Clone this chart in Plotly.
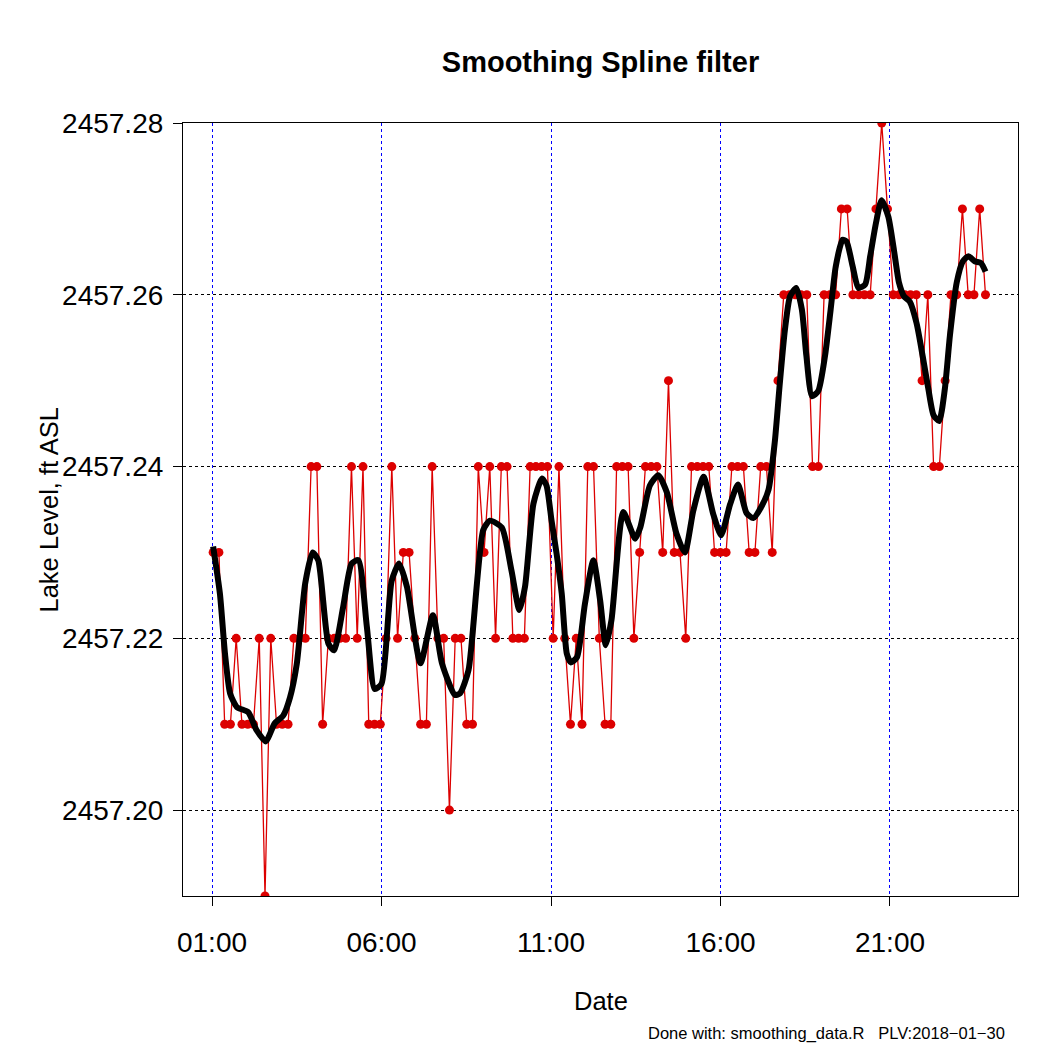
import plotly.graph_objects as go
import pandas as pd

# ---- data ----
day = "2018-01-29 "
first_time = "01:02"
last_time = "23:49"

level = [
    2457.23, 2457.23, 2457.21, 2457.21, 2457.22, 2457.21, 2457.21, 2457.21, 2457.22, 2457.19,
    2457.22, 2457.21, 2457.21, 2457.21, 2457.22, 2457.22, 2457.22, 2457.24, 2457.24, 2457.21,
    2457.22, 2457.22, 2457.22, 2457.22, 2457.24, 2457.22, 2457.24, 2457.21, 2457.21, 2457.21,
    2457.22, 2457.24, 2457.22, 2457.23, 2457.23, 2457.22, 2457.21, 2457.21, 2457.24, 2457.22,
    2457.22, 2457.20, 2457.22, 2457.22, 2457.21, 2457.21, 2457.24, 2457.23, 2457.24, 2457.22,
    2457.24, 2457.24, 2457.22, 2457.22, 2457.22, 2457.24, 2457.24, 2457.24, 2457.24, 2457.22,
    2457.24, 2457.22, 2457.21, 2457.22, 2457.21, 2457.24, 2457.24, 2457.22, 2457.21, 2457.21,
    2457.24, 2457.24, 2457.24, 2457.22, 2457.23, 2457.24, 2457.24, 2457.24, 2457.23, 2457.25,
    2457.23, 2457.23, 2457.22, 2457.24, 2457.24, 2457.24, 2457.24, 2457.23, 2457.23, 2457.23,
    2457.24, 2457.24, 2457.24, 2457.23, 2457.23, 2457.24, 2457.24, 2457.23, 2457.25, 2457.26,
    2457.26, 2457.26, 2457.26, 2457.26, 2457.24, 2457.24, 2457.26, 2457.26, 2457.26, 2457.27,
    2457.27, 2457.26, 2457.26, 2457.26, 2457.26, 2457.27, 2457.28, 2457.27, 2457.26, 2457.26,
    2457.26, 2457.26, 2457.26, 2457.25, 2457.26, 2457.24, 2457.24, 2457.25, 2457.26, 2457.26,
    2457.27, 2457.26, 2457.26, 2457.27, 2457.26,
]

smooth_time = [
    "01:02", "01:14", "01:23", "01:32", "01:44", "02:04", "02:19", "02:35", "02:51", "03:06",
    "03:18", "03:30", "03:45", "03:58", "04:08", "04:26", "04:36", "04:52", "05:07", "05:19",
    "05:34", "05:48", "06:00", "06:18", "06:31", "06:45", "07:09", "07:31", "07:47", "08:10",
    "08:19", "08:34", "09:00", "09:12", "09:33", "09:50", "10:04", "10:14", "10:29", "10:44",
    "10:52", "11:01", "11:10", "11:19", "11:28", "11:35", "11:46", "12:00", "12:15", "12:27",
    "12:37", "12:47", "13:08", "13:29", "13:38", "13:55", "14:10", "14:25", "14:42", "14:57",
    "15:12", "15:30", "15:47", "16:01", "16:17", "16:31", "16:46", "16:58", "17:13", "17:25",
    "17:36", "17:45", "17:54", "18:03", "18:14", "18:24", "18:32", "18:42", "18:53", "19:05",
    "19:15", "19:24", "19:36", "19:43", "19:54", "20:04", "20:16", "20:25", "20:35", "20:45",
    "20:57", "21:07", "21:16", "21:25", "21:35", "21:47", "21:58", "22:08", "22:17", "22:27",
    "22:37", "22:46", "22:58", "23:09", "23:19", "23:30", "23:41", "23:49",
]
smooth_level = [
    2457.2307, 2457.2252, 2457.2182, 2457.2136, 2457.2120, 2457.2114, 2457.2093, 2457.2080, 2457.2101, 2457.2110,
    2457.2131, 2457.2170, 2457.2264, 2457.2300, 2457.2291, 2457.2194, 2457.2186, 2457.2236, 2457.2287, 2457.2291,
    2457.2214, 2457.2141, 2457.2147, 2457.2267, 2457.2287, 2457.2260, 2457.2171, 2457.2227, 2457.2171, 2457.2134,
    2457.2136, 2457.2163, 2457.2326, 2457.2337, 2457.2329, 2457.2279, 2457.2233, 2457.2260, 2457.2357, 2457.2386,
    2457.2378, 2457.2337, 2457.2298, 2457.2252, 2457.2182, 2457.2172, 2457.2178, 2457.2240, 2457.2291, 2457.2244,
    2457.2192, 2457.2221, 2457.2347, 2457.2316, 2457.2329, 2457.2378, 2457.2390, 2457.2370, 2457.2322, 2457.2300,
    2457.2349, 2457.2388, 2457.2345, 2457.2320, 2457.2356, 2457.2379, 2457.2346, 2457.2340, 2457.2354, 2457.2373,
    2457.2428, 2457.2497, 2457.2559, 2457.2598, 2457.2608, 2457.2583, 2457.2529, 2457.2482, 2457.2488, 2457.2529,
    2457.2583, 2457.2633, 2457.2664, 2457.2662, 2457.2633, 2457.2608, 2457.2612, 2457.2645, 2457.2683, 2457.2710,
    2457.2691, 2457.2652, 2457.2614, 2457.2598, 2457.2592, 2457.2567, 2457.2528, 2457.2490, 2457.2460, 2457.2453,
    2457.2490, 2457.2552, 2457.2614, 2457.2639, 2457.2645, 2457.2639, 2457.2637, 2457.2627,
]

tick_times = ["01:00", "06:00", "11:00", "16:00", "21:00"]
y_ticks = [2457.20, 2457.22, 2457.24, 2457.26, 2457.28]

title_text = "Smoothing Spline filter"
x_label = "Date"
y_label = "Lake Level, ft ASL"
footer_text = "Done with: smoothing_data.R   PLV:2018\u221201\u221230"

# ---- build ----
times = pd.date_range(day + first_time, day + last_time, periods=len(level))
smooth_x = pd.to_datetime([day + t for t in smooth_time])
tick_x = pd.to_datetime([day + t for t in tick_times])

FONT = "Liberation Sans, Arial, Helvetica, sans-serif"
RED = "#DC0000"

# page has an 8px body margin, so the figure is drawn 8px smaller and shifted
W = H = 1042
L, T, R, B = 175, 115, 32, 154

fig = go.Figure()
fig.add_trace(go.Scatter(
    x=times, y=level, mode="lines+markers",
    line=dict(color=RED, width=1.3),
    marker=dict(color=RED, size=9, line=dict(width=0)),
    showlegend=False,
))
fig.add_trace(go.Scatter(
    x=smooth_x, y=smooth_level, mode="lines",
    line=dict(color="black", width=6, shape="spline", smoothing=0.6),
    showlegend=False,
))

plot_w = W - L - R
plot_h = H - T - B

fig.update_layout(
    width=W, height=H,
    margin=dict(l=L, r=R, t=T, b=B, autoexpand=False),
    paper_bgcolor="white", plot_bgcolor="white",
    font=dict(family=FONT, size=25, color="black"),
    title=dict(text="<b>" + title_text + "</b>", x=(L + plot_w / 2) / W, xanchor="center",
               y=1 - 54 / H, yanchor="middle", yref="container",
               font=dict(family=FONT, size=29, color="black")),
    xaxis=dict(
        type="date",
        range=[pd.Timestamp(day + "00:08:40"), pd.Timestamp(day + "00:46:34") + pd.Timedelta(days=1)],
        tickvals=tick_x, ticktext=tick_times,
        showgrid=True, gridcolor="#0000FF", griddash="dot", gridwidth=1,
        showline=True, linecolor="black", linewidth=1.2, mirror=True,
        ticks="outside", ticklen=9, tickcolor="black", tickwidth=1,
        ticklabelstandoff=12,
        tickfont=dict(family=FONT, size=28, color="black"),
        zeroline=False,
    ),
    yaxis=dict(
        range=[2457.19, 2457.28],
        tickvals=y_ticks, tickformat=".2f",
        showgrid=True, gridcolor="black", griddash="dot", gridwidth=1,
        showline=True, linecolor="black", linewidth=1.2, mirror=True,
        ticks="outside", ticklen=9, tickcolor="black", tickwidth=1,
        ticklabelstandoff=4,
        tickfont=dict(family=FONT, size=28, color="black"),
        zeroline=False,
    ),
    annotations=[
        dict(text=x_label, xref="paper", yref="paper", x=0.5, y=-105 / plot_h,
             xanchor="center", yanchor="middle", showarrow=False,
             font=dict(family=FONT, size=25.5, color="black")),
        dict(text=y_label, xref="paper", yref="paper", x=-135 / plot_w, y=0.5,
             xanchor="center", yanchor="middle", textangle=-90, showarrow=False,
             font=dict(family=FONT, size=25.5, color="black")),
        dict(text=footer_text, xref="paper", yref="paper", x=(plot_w - 11) / plot_w,
             y=-137 / plot_h, xanchor="right", yanchor="middle", showarrow=False,
             font=dict(family=FONT, size=16.5, color="black")),
    ],
)

fig.write_html("out.html")
